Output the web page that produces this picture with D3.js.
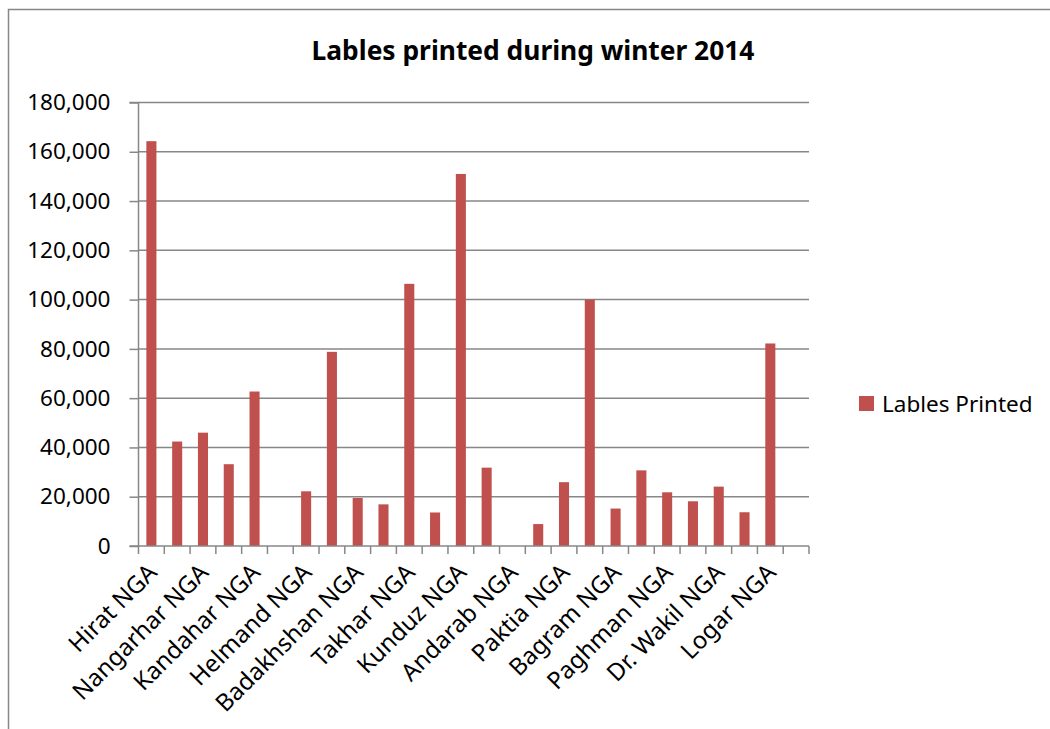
<!DOCTYPE html>
<html><head><meta charset="utf-8">
<script src="https://cdn.jsdelivr.net/npm/d3@7"></script>
<style>
html,body{margin:0;padding:0;background:#fff;}
text{font-family:"Noto Sans",sans-serif;fill:#000;}
</style></head>
<body>
<svg id="chart" width="1050" height="729"></svg>
<script>
const title = "Lables printed during winter 2014";
const seriesName = "Lables Printed";
// 26 categories; only every other label is visible in the reference (unknown labels left blank)
const categories = ["Hirat NGA","","Nangarhar NGA","","Kandahar NGA","","Helmand NGA","","Badakhshan NGA","","Takhar NGA","","Kunduz NGA","","Andarab NGA","","Paktia NGA","","Bagram NGA","","Paghman NGA","","Dr. Wakil NGA","","Logar NGA",""];
const values = [164300,42400,46000,33200,62700,0,22200,78800,19500,16900,106400,13600,151000,31800,0,8900,25900,100000,15200,30700,21800,18150,24100,13700,82200,0];
const yTicks = [0,20000,40000,60000,80000,100000,120000,140000,160000,180000];

(function(){
const svg = d3.select("#chart");
const grid = "#878787";
const barColor = "#C0504D";
const pL = 138.5, pR = 809, pT = 102.5, pB = 546;

// outer frame
svg.append("path").attr("d","M8.5,729 L8.5,9.5 L1050,9.5").attr("fill","none").attr("stroke",grid).attr("stroke-width",1.5);

const x = d3.scaleBand().domain(d3.range(categories.length)).range([pL,pR]).padding(0);
const y = d3.scaleLinear().domain([0,180000]).range([pB,pT]);

// gridlines
svg.append("g").selectAll("line").data(yTicks.filter(d=>d>0)).join("line")
  .attr("x1",pL).attr("x2",pR).attr("y1",d=>y(d)).attr("y2",d=>y(d))
  .attr("stroke",grid).attr("stroke-width",1.5);

// y axis
const yAxis = svg.append("g").attr("transform",`translate(${pL},0)`)
  .call(d3.axisLeft(y).tickValues(yTicks).tickSize(9).tickPadding(19).tickFormat(d3.format(",")));
yAxis.select(".domain").attr("stroke",grid).attr("stroke-width",1.5).attr("d",`M-9,${pB}H0V${pT}H-9`);
yAxis.selectAll(".tick line").attr("stroke",grid).attr("stroke-width",1.5);
yAxis.selectAll(".tick text").style("font-family","Noto Sans").style("font-size","22.5px").attr("fill","#000");

// bars
const bw = x.bandwidth()*0.39;
svg.append("g").selectAll("rect").data(values).join("rect")
  .attr("x",(d,i)=>x(i)+x.bandwidth()/2-bw/2)
  .attr("width",bw)
  .attr("y",d=>y(d))
  .attr("height",d=>pB-y(d))
  .attr("fill",barColor);

// x axis
const xg = svg.append("g");
xg.append("line").attr("x1",pL).attr("x2",pR).attr("y1",pB).attr("y2",pB).attr("stroke",grid).attr("stroke-width",1.5);
const bounds = d3.range(categories.length+1).map(i=> i<categories.length ? x(i) : pR);
xg.selectAll("line.tk").data(bounds).join("line").attr("class","tk")
  .attr("x1",d=>d).attr("x2",d=>d).attr("y1",pB).attr("y2",pB+8)
  .attr("stroke",grid).attr("stroke-width",1.5);
xg.selectAll("text").data(categories.map((c,i)=>({c,i})).filter(d=>d.c!=="")).join("text")
  .attr("text-anchor","end")
  .attr("transform",d=>`translate(${x(d.i)+x.bandwidth()/2+7},${pB+28}) rotate(-45)`)
  .style("font-size","24px")
  .text(d=>d.c);

// title
const t = svg.append("text").attr("x",533).attr("y",60).attr("text-anchor","middle")
  .style("font-size","24px").style("font-weight","bold").text(title);
const tl = t.node().getComputedTextLength();
t.style("font-size",(24*443/tl)+"px");

// legend
svg.append("rect").attr("x",859).attr("y",396).attr("width",15).attr("height",15).attr("fill",barColor);
svg.append("text").attr("x",882).attr("y",411.5).style("font-size","22.5px").text(seriesName);
})();
</script>
</body></html>
